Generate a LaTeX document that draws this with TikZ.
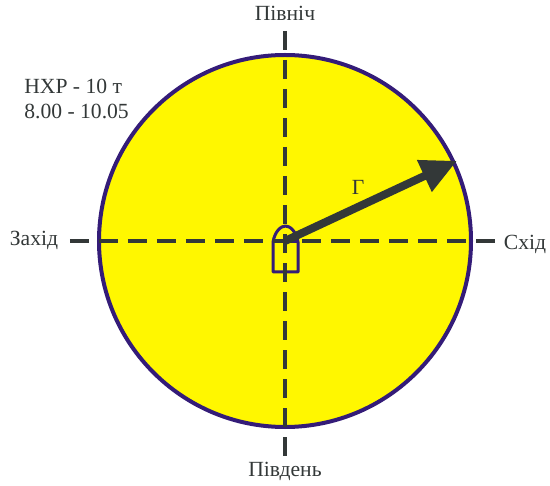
\documentclass[tikz,border=0pt]{standalone}
\usepackage{fontspec}
\setmainfont{Liberation Serif}
\usetikzlibrary{arrows.meta}
\definecolor{bearyellow}{RGB}{255,247,0}
\definecolor{bearpurple}{RGB}{52,28,120}
\definecolor{beardark}{RGB}{51,56,56}
\tikzset{
    compass/.style={
        text=beardark,inner sep=0pt,align=left,
        font=\fontsize{12.3}{14.2}\selectfont
    },
    axis/.style={
        draw=beardark,line width=.08cm,
        dash pattern=on .38cm off .2cm
    },
    bearing/.style={
        -{Triangle[length=.72cm,width=.66cm]},draw=beardark,
        fill=beardark,line width=.16cm,shorten >=-1pt
    }
}
\begin{document}
\begin{tikzpicture}

\useasboundingbox (-5.7,-4.88) rectangle (5.3,4.82);

\node[
draw=bearpurple,line width=.08cm,fill=bearyellow,
circle,inner sep=0pt,minimum size=7.44cm
](disk) at (0,0){};

\coordinate (top) at (0,4.2);
\coordinate (bottom) at (0,-4.3);
\coordinate (left) at (-4.3,0);
\coordinate (right) at (4.2,0);
\coordinate (centre) at (0,0);
\coordinate (tip) at (disk.25.5);

% boat
\draw[bearpurple,line width=.06cm,line join=round]
(-.24,-.62) -- (.26,-.62) -- (.26,-.02)
.. controls (.22,.2) and (.1,.3) .. (.01,.3)
.. controls (-.08,.3) and (-.2,.2) .. (-.24,-.02) -- cycle;
\draw[bearpurple,line width=.06cm](-.24,-.02)--(.26,-.02);

\draw[axis](left)--(right);
\draw[axis](top)--(bottom);

\draw[bearing](centre)--(tip);

\node[compass](north) at (0,4.56){Північ};
\node[compass](south) at (0,-4.6){Південь};
\node[compass](west) at (-5.02,.02){Захід};
\node[compass](east) at (4.8,-.06){Схід};
\node[compass](gamma) at (1.46,1.08){Г};
\node[compass,anchor=west](ship) at (-5.22,2.84){НХР - 10 т\\8.00 - 10.05};

\end{tikzpicture}
\end{document}
